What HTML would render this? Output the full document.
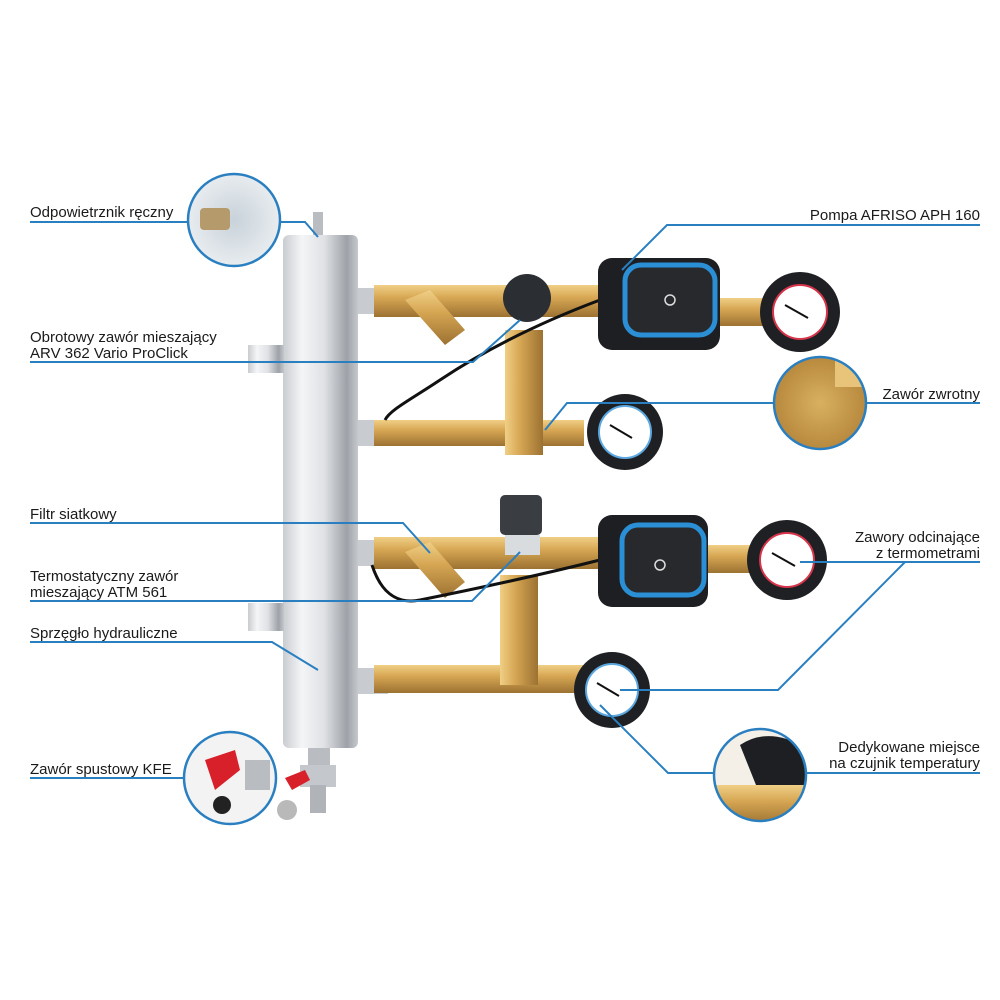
<!DOCTYPE html>
<html><head><meta charset="utf-8"><style>
html,body{margin:0;padding:0;background:#fff;}
svg{display:block}
text{font-family:"Liberation Sans","DejaVu Sans",sans-serif;font-size:15px;fill:#1a1a1a}
</style></head><body>
<svg width="1000" height="1000" viewBox="0 0 1000 1000" xmlns="http://www.w3.org/2000/svg">
<defs>
<linearGradient id="steel" x1="0" x2="1" y1="0" y2="0">
<stop offset="0" stop-color="#c9ccd0"/><stop offset="0.25" stop-color="#f4f5f7"/><stop offset="0.55" stop-color="#dfe1e4"/><stop offset="0.85" stop-color="#9ea2a8"/><stop offset="1" stop-color="#c5c8cc"/>
</linearGradient>
<linearGradient id="brass" x1="0" x2="0" y1="0" y2="1">
<stop offset="0" stop-color="#f0cf86"/><stop offset="0.4" stop-color="#d6a653"/><stop offset="1" stop-color="#9c7232"/>
</linearGradient>
<linearGradient id="brassv" x1="0" x2="1" y1="0" y2="0">
<stop offset="0" stop-color="#f0cf86"/><stop offset="0.4" stop-color="#d6a653"/><stop offset="1" stop-color="#9c7232"/>
</linearGradient>
<radialGradient id="zoomA"><stop offset="0" stop-color="#c8d2da"/><stop offset="1" stop-color="#e8ecef"/></radialGradient>
<radialGradient id="zoomB"><stop offset="0" stop-color="#d8b060"/><stop offset="1" stop-color="#b8893e"/></radialGradient>
<clipPath id="c1"><circle cx="234" cy="220" r="46"/></clipPath>
<clipPath id="c2"><circle cx="230" cy="778" r="46"/></clipPath>
<clipPath id="c3"><circle cx="820" cy="403" r="46"/></clipPath>
<clipPath id="c4"><circle cx="760" cy="775" r="46"/></clipPath>
</defs>

<!-- hydraulic coupler -->
<rect x="313" y="212" width="10" height="25" fill="#b9bcc0"/>
<rect x="283" y="235" width="75" height="513" rx="6" fill="url(#steel)"/>
<rect x="248" y="345" width="36" height="28" fill="url(#steel)"/>
<rect x="248" y="603" width="36" height="28" fill="url(#steel)"/>
<!-- drain valve -->
<rect x="308" y="748" width="22" height="20" fill="#b9bcc0"/>
<rect x="300" y="765" width="36" height="22" fill="#c4c7cb"/>
<rect x="310" y="785" width="16" height="28" fill="#b0b3b7"/>
<path d="M285 778 L305 770 L310 780 L292 790Z" fill="#d8202a"/>
<circle cx="287" cy="810" r="10" fill="#b9b9b9"/>

<!-- row pipes -->
<rect x="358" y="288" width="30" height="26" fill="#c8cbcf"/>
<rect x="374" y="285" width="230" height="32" fill="url(#brass)"/>
<path d="M405 300 L445 345 L465 330 L430 290Z" fill="url(#brass)"/>
<rect x="358" y="420" width="30" height="26" fill="#c8cbcf"/>
<rect x="374" y="420" width="210" height="26" fill="url(#brass)"/>
<rect x="505" y="330" width="38" height="125" fill="url(#brassv)"/>
<rect x="358" y="540" width="30" height="26" fill="#c8cbcf"/>
<rect x="374" y="537" width="230" height="32" fill="url(#brass)"/>
<path d="M405 552 L445 598 L465 582 L430 542Z" fill="url(#brass)"/>
<rect x="358" y="668" width="30" height="26" fill="#c8cbcf"/>
<rect x="374" y="665" width="210" height="28" fill="url(#brass)"/>
<rect x="500" y="575" width="38" height="110" fill="url(#brassv)"/>
<rect x="700" y="298" width="70" height="28" fill="url(#brass)"/>
<rect x="700" y="545" width="60" height="28" fill="url(#brass)"/>

<!-- ARV actuator -->
<circle cx="527" cy="298" r="24" fill="#2b2e32"/>
<!-- thermo actuator -->
<rect x="500" y="495" width="42" height="40" rx="5" fill="#3a3d42"/>
<rect x="505" y="535" width="35" height="20" fill="#d9dcdf"/>

<!-- cables -->
<path d="M600 300 C520 330 470 360 440 380 C410 400 390 410 385 420" stroke="#111" stroke-width="3" fill="none"/>
<path d="M600 560 C540 575 470 590 420 600 C395 605 380 590 372 565" stroke="#111" stroke-width="3" fill="none"/>

<!-- pumps -->
<rect x="598" y="258" width="122" height="92" rx="14" fill="#1e1f22"/>
<rect x="625" y="265" width="90" height="70" rx="16" fill="#27292c" stroke="#2b8fd6" stroke-width="5"/>
<circle cx="670" cy="300" r="5" fill="none" stroke="#ddd" stroke-width="1.5"/>
<rect x="598" y="515" width="110" height="92" rx="14" fill="#1e1f22"/>
<rect x="622" y="525" width="82" height="70" rx="16" fill="#27292c" stroke="#2b8fd6" stroke-width="5"/>
<circle cx="660" cy="565" r="5" fill="none" stroke="#ddd" stroke-width="1.5"/>

<!-- gauges -->
<circle cx="800" cy="312" r="40" fill="#1f2023"/><circle cx="800" cy="312" r="27" fill="#fff" stroke="#d6344a" stroke-width="2"/>
<line x1="785" y1="305" x2="808" y2="318" stroke="#111" stroke-width="2"/>
<circle cx="625" cy="432" r="38" fill="#1f2023"/><circle cx="625" cy="432" r="26" fill="#fff" stroke="#5ba7e0" stroke-width="2"/>
<line x1="610" y1="425" x2="632" y2="438" stroke="#111" stroke-width="2"/>
<circle cx="787" cy="560" r="40" fill="#1f2023"/><circle cx="787" cy="560" r="27" fill="#fff" stroke="#d6344a" stroke-width="2"/>
<line x1="772" y1="553" x2="795" y2="566" stroke="#111" stroke-width="2"/>
<circle cx="612" cy="690" r="38" fill="#1f2023"/><circle cx="612" cy="690" r="26" fill="#fff" stroke="#5ba7e0" stroke-width="2"/>
<line x1="597" y1="683" x2="619" y2="696" stroke="#111" stroke-width="2"/>

<!-- zoom circles -->
<g clip-path="url(#c1)">
<circle cx="234" cy="220" r="46" fill="url(#zoomA)"/>
<rect x="200" y="208" width="30" height="22" rx="4" fill="#b59a6c"/>
</g>
<circle cx="234" cy="220" r="46" fill="none" stroke="#2a7fc1" stroke-width="2.5"/>
<g clip-path="url(#c2)">
<circle cx="230" cy="778" r="46" fill="#f3f3f3"/>
<path d="M205 760 L235 750 L240 770 L215 790Z" fill="#d8202a"/>
<circle cx="222" cy="805" r="9" fill="#222"/>
<rect x="245" y="760" width="25" height="30" fill="#b9bcc0"/>
</g>
<circle cx="230" cy="778" r="46" fill="none" stroke="#2a7fc1" stroke-width="2.5"/>
<g clip-path="url(#c3)">
<circle cx="820" cy="403" r="46" fill="url(#zoomB)"/>
<rect x="835" y="357" width="40" height="30" fill="#e8c47a"/>
</g>
<circle cx="820" cy="403" r="46" fill="none" stroke="#2a7fc1" stroke-width="2.5"/>
<g clip-path="url(#c4)">
<circle cx="760" cy="775" r="46" fill="#f4f0e8"/>
<path d="M740 745 Q770 725 810 750 L810 790 L760 795Z" fill="#1e1f22"/>
<rect x="715" y="785" width="95" height="40" fill="url(#brass)"/>
</g>
<circle cx="760" cy="775" r="46" fill="none" stroke="#2a7fc1" stroke-width="2.5"/>

<!-- leader lines -->
<g stroke="#2a7fc1" stroke-width="2" fill="none">
<polyline points="30,222 189,222"/>
<polyline points="280,222 305,222 318,237"/>
<polyline points="30,362 473,362 520,320"/>
<polyline points="30,523 403,523 430,553"/>
<polyline points="30,601 472,601 520,552"/>
<polyline points="30,642 272,642 318,670"/>
<polyline points="30,778 184,778"/>
<polyline points="980,225 667,225 622,270"/>
<polyline points="980,403 867,403"/>
<polyline points="774,403 567,403 545,430"/>
<polyline points="980,562 800,562"/>
<polyline points="905,562 778,690 620,690"/>
<polyline points="980,773 807,773"/>
<polyline points="713,773 668,773 600,705"/>
</g>

<!-- labels -->
<text x="30" y="217">Odpowietrznik ręczny</text>
<text x="30" y="342">Obrotowy zawór mieszający</text>
<text x="30" y="358">ARV 362 Vario ProClick</text>
<text x="30" y="519">Filtr siatkowy</text>
<text x="30" y="581">Termostatyczny zawór</text>
<text x="30" y="597">mieszający ATM 561</text>
<text x="30" y="638">Sprzęgło hydrauliczne</text>
<text x="30" y="774">Zawór spustowy KFE</text>
<g text-anchor="end">
<text x="980" y="220">Pompa AFRISO APH 160</text>
<text x="980" y="399">Zawór zwrotny</text>
<text x="980" y="542">Zawory odcinające</text>
<text x="980" y="558">z termometrami</text>
<text x="980" y="752">Dedykowane miejsce</text>
<text x="980" y="768">na czujnik temperatury</text>
</g>
</svg>
</body></html>
